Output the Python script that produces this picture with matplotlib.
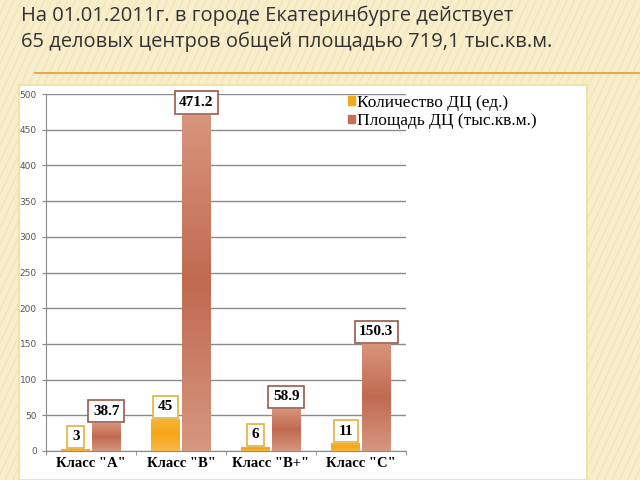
import numpy as np
import matplotlib.pyplot as plt
from matplotlib.patches import Rectangle
from matplotlib.lines import Line2D
from matplotlib.colors import LinearSegmentedColormap

categories = ['Класс "A"', 'Класс "B"', 'Класс "B+"', 'Класс "C"']
count_dc = [3, 45, 6, 11]
area_dc = [38.7, 471.2, 58.9, 150.3]
count_label = "Количество ДЦ (ед.)"
area_label = "Площадь ДЦ (тыс.кв.м.)"
yticks = [0, 50, 100, 150, 200, 250, 300, 350, 400, 450, 500]
title = "На 01.01.2011г. в городе Екатеринбурге действует\n65 деловых центров общей площадью 719,1 тыс.кв.м."

ORANGE = "#f5a81c"
BROWN = "#c46f56"
SERIF = "Liberation Serif"

fig = plt.figure(figsize=(6.4, 4.8), dpi=100, facecolor="#f8eecb")

# diagonal stripes of the slide background
for k in np.arange(-1.0, 2.0, 0.012):
    fig.add_artist(Line2D([k, k + 0.35], [0, 1], transform=fig.transFigure,
                          color="#efdea6", lw=0.8, alpha=0.6, zorder=0))

# white chart panel and orange rule
fig.add_artist(Rectangle((19 / 640, 0), (587 - 19) / 640, 1 - 85 / 480,
                         transform=fig.transFigure, fc="white",
                         ec="#f1e2a8", lw=1.5, zorder=1))
fig.add_artist(Line2D([35 / 640, 1.0], [1 - 73 / 480] * 2, transform=fig.transFigure,
                      color="#e6a33e", lw=1.3, zorder=1))

fig.text(21 / 640, 1 - 6 / 480, title, ha="left", va="top", fontsize=14.5,
         family="Open Sans", color="#333333", linespacing=1.3, zorder=3)

ax = fig.add_axes([46 / 640, 1 - 451 / 480, 360 / 640, (451 - 94) / 480], zorder=2)
ax.set_facecolor("none")

x = np.arange(len(categories))
w = 0.32
off = 0.17
b1 = ax.bar(x - off, count_dc, w, color=ORANGE, label=count_label, zorder=3)
b2 = ax.bar(x + off, area_dc, w, color=BROWN, label=area_label, zorder=3)

# gradient fill on bars
cm_or = LinearSegmentedColormap.from_list("o", ["#f7b53a", "#f6a514", "#f8b84a"])
cm_br = LinearSegmentedColormap.from_list("b", ["#d8957c", "#c06a50", "#d69680"])
for bars, cmap in ((b1, cm_or), (b2, cm_br)):
    for p in bars:
        grad = np.linspace(0, 1, 100).reshape(-1, 1)
        im = ax.imshow(grad, cmap=cmap, aspect="auto", zorder=3.5,
                       extent=[p.get_x(), p.get_x() + p.get_width(), 0, p.get_height()])
        im.set_clip_path(p)

for bars, vals, ec in ((b1, count_dc, "#e3b23c"), (b2, area_dc, "#9a5a4a")):
    for p, v in zip(bars, vals):
        ax.annotate(f"{v:g}", (p.get_x() + p.get_width() / 2, v), xytext=(0, 4),
                    textcoords="offset points", ha="center", va="bottom",
                    fontsize=11, fontweight="bold", family=SERIF, zorder=5,
                    bbox=dict(boxstyle="square,pad=0.3", fc="white", ec=ec, lw=1.2))

ax.set_xlim(-0.5, len(categories) - 0.5)
ax.set_ylim(0, 500)
ax.set_yticks(yticks)
ax.yaxis.grid(True, color="#8a8a8a", lw=1)
ax.set_axisbelow(True)
ax.tick_params(axis="y", labelsize=6.5, labelcolor="#555555", color="#888888", length=3)
ax.set_xticks(x)
ax.set_xticklabels(categories, fontsize=10.5, fontweight="bold", family=SERIF)
ax.set_xticks(np.arange(-0.5, len(categories), 1), minor=True)
ax.tick_params(axis="x", which="major", length=0, pad=4)
ax.tick_params(axis="x", which="minor", length=3, color="#888888")
for s in ("top", "right"):
    ax.spines[s].set_visible(False)
for s in ("left", "bottom"):
    ax.spines[s].set_color("#8a8a8a")

handles = [Rectangle((0, 0), 1, 1, color=ORANGE), Rectangle((0, 0), 1, 1, color=BROWN)]
fig.legend(handles, [count_label, area_label], loc="upper left",
           bbox_to_anchor=(339 / 640, 1 - 86 / 480), frameon=False,
           prop=dict(family=SERIF, size=12.5), handlelength=0.4, handleheight=0.4,
           handletextpad=0.15, labelspacing=0.15, borderpad=0)

fig.savefig("out.png", dpi=100, facecolor=fig.get_facecolor())
